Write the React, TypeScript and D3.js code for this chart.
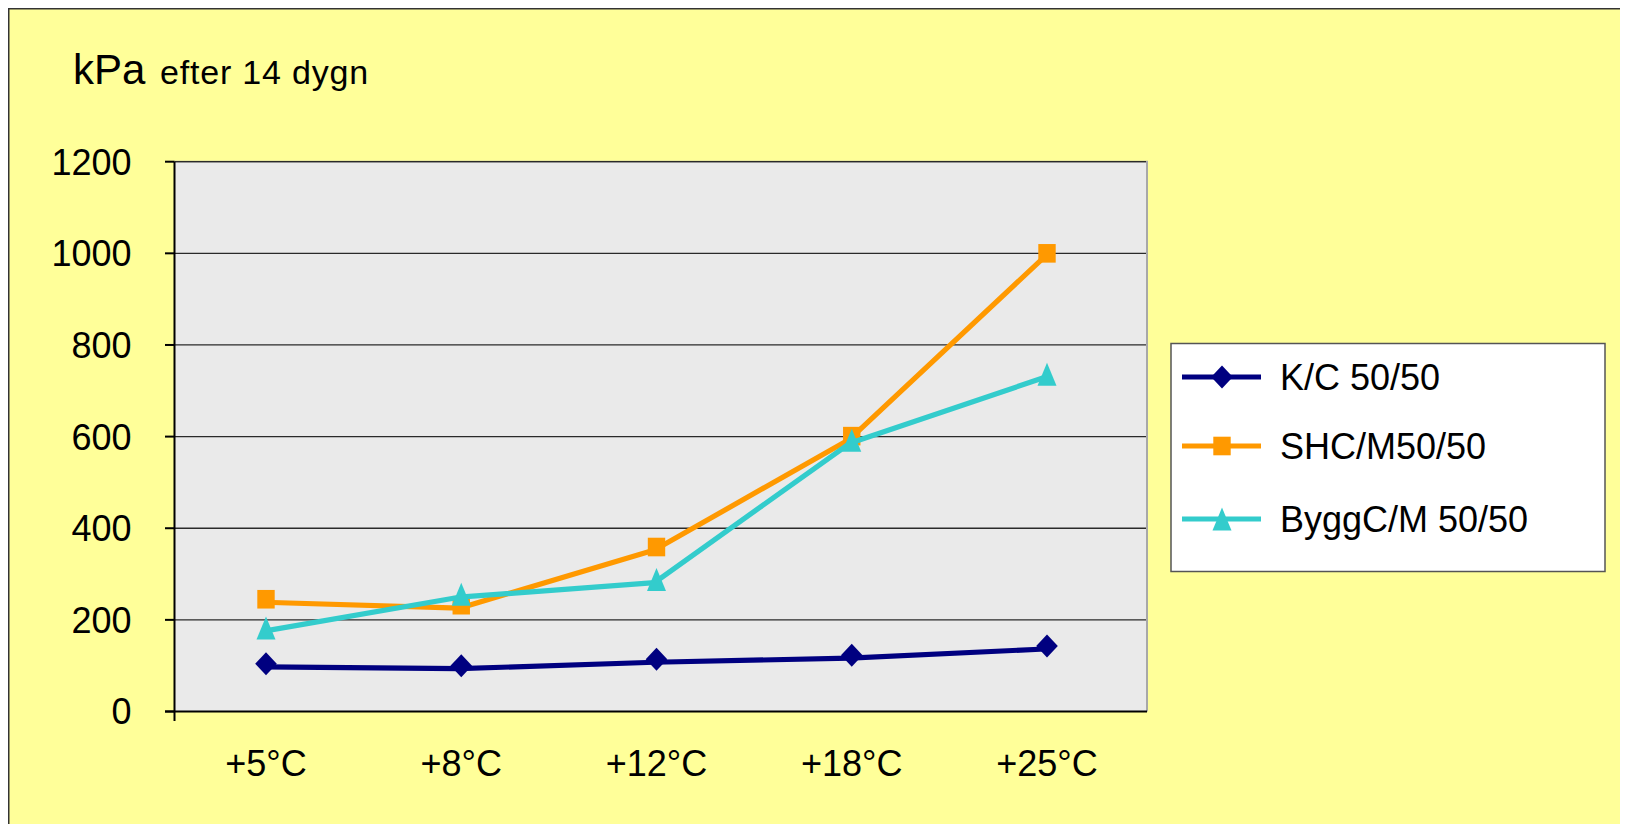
import React from "react";
import * as d3 from "d3";

// Strength (kPa) after 14 days at different curing temperatures
const categories = ["+5°C", "+8°C", "+12°C", "+18°C", "+25°C"];
const seriesNames = ["K/C 50/50", "SHC/M50/50", "ByggC/M 50/50"];
const kc = [104, 100, 114, 123, 143];
const shc = [245, 232, 359, 601, 1000];
const byggc = [182, 256, 288, 592, 736];
const yTicks = [0, 200, 400, 600, 800, 1000, 1200];

const colors = ["#000080", "#FF9900", "#33CCCC"];
const shapes = ["diamond", "square", "triangle"];
const FONT = "'Liberation Sans', Arial, Helvetica, sans-serif";

// plot area in page coordinates
const plot = { left: 174.5, right: 1147, top: 161.7, bottom: 711.5 };

function Marker({ shape, x, y, color }: { shape: string; x: number; y: number; color: string }) {
  if (shape === "diamond") {
    const w = 10.8, h = 11.5;
    return <polygon points={`${x},${y - h} ${x + w},${y} ${x},${y + h} ${x - w},${y}`} fill={color} />;
  }
  if (shape === "square") {
    return <rect x={x - 8.7} y={y - 9.3} width={17.4} height={18.6} fill={color} />;
  }
  const w = 9.5, h = 11.5;
  return <polygon points={`${x},${y - h} ${x + w},${y + h} ${x - w},${y + h}`} fill={color} />;
}

export default function App() {
  React.useEffect(() => {
    document.documentElement.style.overflow = "hidden";
  }, []);

  const data = [kc, shc, byggc];
  const x = d3.scalePoint<string>().domain(categories).range([266, 1047]);
  const y = d3.scaleLinear().domain([0, 1200]).range([plot.bottom, plot.top]);
  const line = d3
    .line<number>()
    .x((_, i) => x(categories[i]) as number)
    .y((d) => y(d));

  const legendRows = [377, 446, 519];

  return (
    <svg width={1620} height={816} style={{ display: "block" }}>
      <g transform="translate(-8,-8)">
        {/* chart background and frame */}
        <rect x={8.75} y={8.75} width={1640} height={840} fill="#FFFF99" stroke="#333" strokeWidth={1.5} />

        {/* title */}
        <text x={73} y={83.5} fontFamily={FONT} fontSize={42} fill="#000">kPa</text>
        <text x={160} y={83.5} fontFamily={FONT} fontSize={34} fill="#000" letterSpacing={0.8}>
          efter 14 dygn
        </text>

        {/* plot area */}
        <rect
          x={plot.left}
          y={plot.top}
          width={plot.right - plot.left}
          height={plot.bottom - plot.top}
          fill="#EAEAEA"
        />
        <path
          d={`M${plot.left},${plot.top}H${plot.right}V${plot.bottom}`}
          fill="none"
          stroke="#A8A8A8"
          strokeWidth={2}
        />

        {/* gridlines */}
        {yTicks.slice(1).map((t) => (
          <line key={t} x1={plot.left} x2={plot.right - 1} y1={y(t)} y2={y(t)} stroke="#2a2a2a" strokeWidth={1.3} />
        ))}

        {/* axes */}
        <line x1={plot.left} x2={plot.left} y1={plot.top} y2={721} stroke="#000" strokeWidth={2} />
        <line x1={165} x2={plot.right} y1={plot.bottom} y2={plot.bottom} stroke="#000" strokeWidth={2} />
        {yTicks.map((t) => (
          <g key={t}>
            <line x1={165} x2={plot.left} y1={y(t)} y2={y(t)} stroke="#000" strokeWidth={2} />
            <text x={131.5} y={y(t) + 12.9} textAnchor="end" fontFamily={FONT} fontSize={36} fill="#000">
              {t}
            </text>
          </g>
        ))}
        {categories.map((c) => (
          <text key={c} x={x(c)} y={776} textAnchor="middle" fontFamily={FONT} fontSize={36} fill="#000">
            {c}
          </text>
        ))}

        {/* series */}
        {data.map((vals, si) => (
          <g key={seriesNames[si]}>
            <path
              d={line(vals) as string}
              transform="translate(-2,3)"
              fill="none"
              stroke={colors[si]}
              strokeWidth={5.2}
              strokeLinejoin="round"
            />
            {vals.map((v, i) => (
              <Marker key={i} shape={shapes[si]} x={x(categories[i]) as number} y={y(v)} color={colors[si]} />
            ))}
          </g>
        ))}

        {/* legend */}
        <rect x={1171} y={343.5} width={434} height={228} fill="#FFFFFF" stroke="#555" strokeWidth={1.5} />
        {seriesNames.map((name, i) => (
          <g key={name}>
            <line x1={1182} x2={1261} y1={legendRows[i]} y2={legendRows[i]} stroke={colors[i]} strokeWidth={4.8} />
            <Marker shape={shapes[i]} x={1222} y={legendRows[i]} color={colors[i]} />
            <text x={1280} y={legendRows[i] + 13} fontFamily={FONT} fontSize={36} fill="#000">
              {name}
            </text>
          </g>
        ))}
      </g>
    </svg>
  );
}
